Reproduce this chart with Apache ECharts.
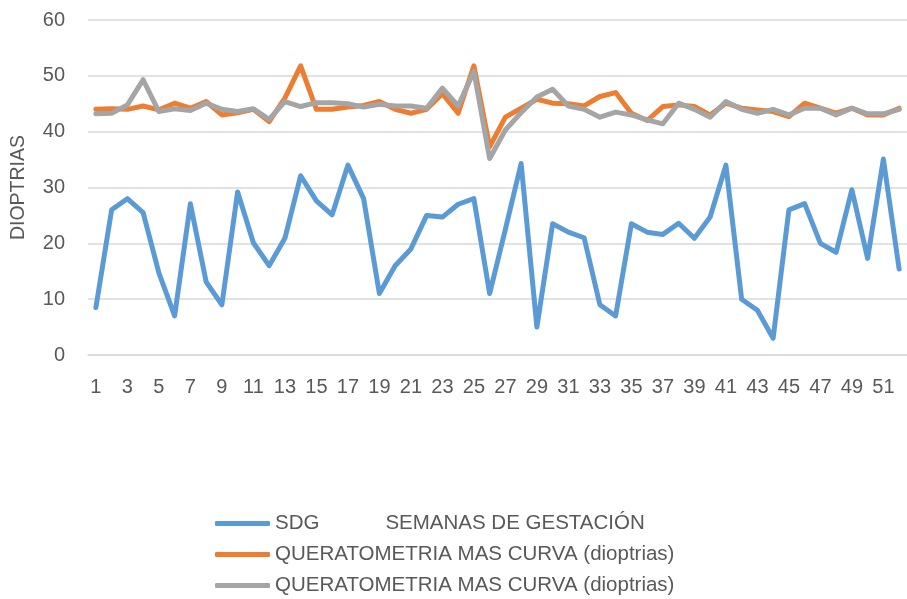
<!DOCTYPE html>
<html>
<head>
<meta charset="utf-8">
<script src="https://cdn.jsdelivr.net/npm/echarts@6/dist/echarts.min.js"></script>
<style>html,body{margin:0;padding:0;background:#fff;}#c{width:907px;height:599px;}</style>
</head>
<body>
<div id="c"></div>
<script>
const categories = Array.from({length: 52}, (_, i) => String(i + 1));
const sdg = [8.5,26,28,25.5,14.7,7,27.1,13.1,9,29.2,20.1,16,20.9,32.1,27.6,25.1,34,28,11,16,19,25,24.7,27,28,11,22.5,34.3,5,23.5,22,21,9,7,23.5,22,21.6,23.6,20.9,24.7,34,10,8,3,26,27.1,20,18.4,29.6,17.3,35.1,15.4];
const quer1 = [44,44.1,44,44.6,43.9,45.1,44.2,45.4,43,43.4,44,41.8,46,51.8,44,44,44.4,44.7,45.4,44,43.3,44,46.8,43.3,51.8,37.3,42.6,44.2,45.8,45.1,45,44.6,46.3,47,43.3,42,44.5,44.8,44.5,43,45.1,44.2,43.9,43.6,42.7,45.1,44.2,43.3,44.2,43,43,44.2];
const quer2 = [43.2,43.3,44.8,49.3,43.6,44.1,43.8,45.1,44,43.6,44.1,42.2,45.4,44.5,45.2,45.2,45,44.4,44.9,44.6,44.6,44.2,47.8,44.6,50.8,35.2,40.3,43.4,46.2,47.6,44.6,44,42.6,43.5,43,42.1,41.4,45.1,44,42.6,45.4,44,43.3,44,43,44.2,44.2,43,44.2,43.2,43.2,44];
const seriesNames = ['SDG', 'QUERATOMETRIA MAS CURVA (dioptrias) A', 'QUERATOMETRIA MAS CURVA (dioptrias) B'];
const legendLabels = {
  'SDG': 'SDG{gap|}SEMANAS DE GESTACIÓN',
  'QUERATOMETRIA MAS CURVA (dioptrias) A': 'QUERATOMETRIA MAS CURVA (dioptrias)',
  'QUERATOMETRIA MAS CURVA (dioptrias) B': 'QUERATOMETRIA MAS CURVA (dioptrias)'
};
const yTicks = [0, 10, 20, 30, 40, 50, 60];
const colors = ['#5B9BD5', '#ED7D31', '#A5A5A5'];
const FONT = 'Liberation Sans';

const chart = echarts.init(document.getElementById('c'), null, {renderer: 'canvas'});
const mk = (name, data, color) => ({
  name, type: 'line', data, symbol: 'none', showSymbol: false,
  lineStyle: {width: 5, color, cap: 'round', join: 'round'},
  itemStyle: {color}
});
chart.setOption({
  animation: false,
  color: colors,
  grid: {left: 88, right: 0, top: 20, bottom: 244},
  xAxis: {
    type: 'category', data: categories, boundaryGap: true,
    axisLine: {show: true, lineStyle: {color: '#D9D9D9', width: 1.5}},
    axisTick: {show: false},
    axisLabel: {interval: 1, color: '#595959', fontSize: 20, fontFamily: FONT, margin: 22}
  },
  yAxis: {
    type: 'value', min: yTicks[0], max: yTicks[yTicks.length - 1], interval: 10,
    name: 'DIOPTRIAS', nameLocation: 'middle', nameGap: 59, nameRotate: 90,
    nameTextStyle: {color: '#595959', fontSize: 19.5, fontFamily: FONT},
    axisLine: {show: false}, axisTick: {show: false},
    axisLabel: {color: '#595959', fontSize: 20, fontFamily: FONT, margin: 23},
    splitLine: {lineStyle: {color: '#D9D9D9', width: 1.5}}
  },
  legend: {
    orient: 'vertical', left: 215, top: 513, height: 86, padding: 0,
    icon: 'roundRect', itemWidth: 55, itemHeight: 5, itemGap: 10,
    data: seriesNames,
    formatter: n => legendLabels[n],
    textStyle: {color: '#595959', fontSize: 20.5, fontFamily: FONT, lineHeight: 20,
      rich: {gap: {width: 66}}}
  },
  series: [mk(seriesNames[0], sdg, colors[0]), mk(seriesNames[1], quer1, colors[1]), mk(seriesNames[2], quer2, colors[2])]
});
</script>
</body>
</html>
